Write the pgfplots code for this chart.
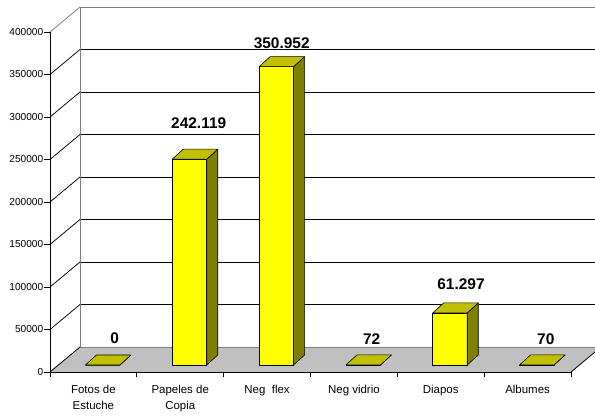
\documentclass[border=0pt]{standalone}
\usepackage{pgfplots}
\pgfplotsset{compat=1.18}
\usepackage{pgfplotstable}
\usepackage{fontspec}
\setmainfont{Liberation Sans}
\definecolor{barfront}{RGB}{255,255,0}
\definecolor{bartop}{RGB}{192,192,0}
\definecolor{barside}{RGB}{128,128,0}
\definecolor{floorgray}{RGB}{192,192,192}
\definecolor{wallgray}{RGB}{128,128,128}
\pgfdeclareplotmark{nothing}{}
\pgfplotstableread{
x v
0.5 0
1.5 242119
2.5 350952
3.5 72
4.5 61297
5.5 70
}\datatable
\tikzset{back/.style={shift={(30bp,25bp)}}}
\begin{document}
\begin{tikzpicture}
\begin{axis}[
  width=521bp, height=340bp, scale only axis,
  xmin=0, xmax=6, ymin=0, ymax=400000,
  clip=false, axis on top,
  axis x line*=bottom, axis y line*=left,
  axis line style={black, line width=0.8bp, -},
  tick align=outside, major tick length=5.5bp,
  tick style={black, line width=0.8bp},
  xtick={0,1,2,3,4,5,6}, xticklabels={},
  extra x ticks={0.5,1.5,2.5,3.5,4.5,5.5},
  extra x tick labels={{Fotos de\\Estuche},{Papeles de\\Copia},{Neg\ \ flex},{Neg vidrio},{Diapos},{Albumes}},
  extra x tick style={major tick length=0pt,
    tick label style={align=center, font=\fontsize{11.5}{15.5}\selectfont, anchor=north, yshift=-10bp}},
  ytick={0,50000,100000,150000,200000,250000,300000,350000,400000},
  scaled y ticks=false,
  yticklabel style={/pgf/number format/fixed, /pgf/number format/1000 sep={},
    /pgf/number format/assume math mode=true, font=\fontsize{10.2}{12}\selectfont, inner xsep=1bp},
]
% floor
\fill[floorgray] (axis cs:0,0) -- (axis cs:6,0) -- ([back]axis cs:6,0) -- ([back]axis cs:0,0) -- cycle;
\draw[black, line width=0.8bp] (axis cs:6,0) -- ([back]axis cs:6,0);
% back wall grid
\pgfplotsinvokeforeach{50000,100000,150000,200000,250000,300000,350000}{
  \draw[black, line width=0.75bp] ([back]axis cs:0,#1) -- ([back]axis cs:6,#1);
  \draw[black, line width=0.75bp] (axis cs:0,#1) -- ([back]axis cs:0,#1);
}
\draw[black, line width=0.8bp] (axis cs:0,0) -- ([back]axis cs:0,0);
\draw[wallgray, line width=0.8bp] (axis cs:0,400000) -- ([back]axis cs:0,400000);
\draw[wallgray, line width=0.9bp] ([back]axis cs:6,0) -- ([back]axis cs:0,0) -- ([back]axis cs:0,400000) -- ([back]axis cs:6,400000);
% 3D bars
\addplot[scatter, only marks, mark=nothing,
  visualization depends on={y \as \val},
  scatter/@pre marker code/.code={%
    \begingroup
      \pgfkeys{/pgf/fpu=true,/pgf/fpu/output format=fixed}%
      \pgfmathparse{\val*0.00085}%
      \xdef\barh{\pgfmathresult bp}%
    \endgroup
    \path[fill=barfront, draw=black, line width=0.6bp, line join=round]
      (-8bp,{7bp-\barh}) rectangle (26.5bp,7bp);
    \path[fill=barside, draw=black, line width=0.6bp, line join=round]
      (26.5bp,{7bp-\barh}) -- (26.5bp,7bp) -- (37.5bp,17bp) -- (37.5bp,{17bp-\barh}) -- cycle;
    \path[fill=bartop, draw=black, line width=0.6bp, line join=round]
      (-8bp,7bp) -- (26.5bp,7bp) -- (37.5bp,17bp) -- (3bp,17bp) -- cycle;
  },
  scatter/@post marker code/.code={},
] table[x=x, y=v] {\datatable};
% value labels
\begin{scope}[every node/.style={font=\fontsize{15.5}{18}\selectfont\bfseries, inner sep=0pt}]
\node at ([shift={(64.7bp,34bp)}]axis cs:0,0) {0};
\node at ([shift={(148.7bp,248.7bp)}]axis cs:0,0) {242.119};
\node at ([shift={(231.7bp,329bp)}]axis cs:0,0) {350.952};
\node at ([shift={(321.7bp,33.2bp)}]axis cs:0,0) {72};
\node at ([shift={(411bp,88bp)}]axis cs:0,0) {61.297};
\node at ([shift={(495.8bp,33.3bp)}]axis cs:0,0) {70};
\end{scope}
\coordinate (bbSW) at ([shift={(-50bp,-44bp)}]axis cs:0,0);
\coordinate (bbNE) at ([shift={(545bp,372bp)}]axis cs:0,0);
\end{axis}
\pgfresetboundingbox
\useasboundingbox (bbSW) rectangle (bbNE);
\end{tikzpicture}
\end{document}
